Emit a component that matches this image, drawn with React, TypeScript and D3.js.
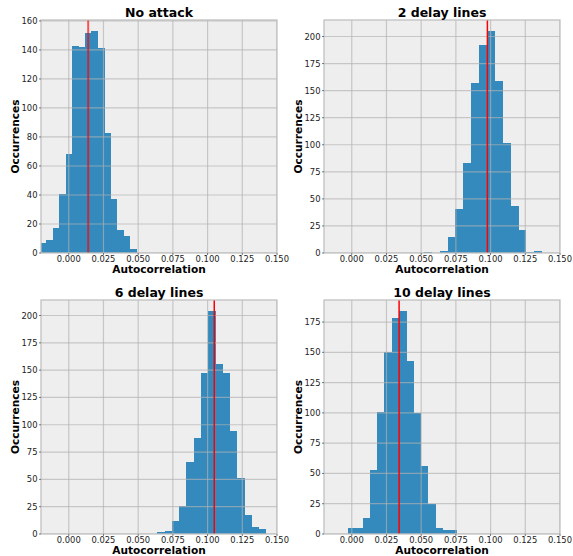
import React from 'react';
import * as d3 from 'd3';

// Histogram counts per panel (1024 samples each)
const noAttackCounts = [7, 9, 17, 41, 68, 143, 142, 152, 153, 141, 83, 37, 16, 12, 3];
const delay2Counts = [1, 0, 2, 15, 41, 83, 157, 192, 205, 159, 102, 43, 21, 1, 2];
const delay6Counts = [2, 3, 12, 26, 66, 88, 147, 204, 156, 147, 94, 51, 17, 6, 5];
const delay10Counts = [5, 5, 13, 53, 101, 150, 178, 184, 143, 100, 56, 25, 5, 3, 3];

// Range covered by the bins of each panel
const binRanges = [
  [-0.0207, 0.0486],
  [0.0521, 0.1368],
  [0.0638, 0.142],
  [-0.0026, 0.0758],
];

// Mean autocorrelation (red line)
const meanValues = [0.014, 0.0977, 0.1048, 0.0341];

const titles = ['No attack', '2 delay lines', '6 delay lines', '10 delay lines'];
const xTicks = [0, 0.025, 0.05, 0.075, 0.1, 0.125, 0.15];
const xDomain = [-0.02, 0.15];
const yTickSteps = [20, 25, 25, 25];

const allCounts = [noAttackCounts, delay2Counts, delay6Counts, delay10Counts];

const W = 573;
const H = 556;
const font = 'DejaVu Sans, sans-serif';
const barColor = '#348ABD';

// plot areas: [left, top, right, bottom]
const boxes = [
  [41, 20, 277, 253],
  [324, 20, 560, 253],
  [41, 300, 277, 534],
  [324, 300, 560, 534],
];

const Panel = ({ i }: { i: number }) => {
  const [x0, y0, x1, y1] = boxes[i];
  const counts = allCounts[i];
  const [lo, hi] = binRanges[i];
  const n = counts.length;
  const edges = d3.range(n + 1).map((k) => lo + ((hi - lo) * k) / n);
  const yMax = (d3.max(counts) as number) * 1.05;

  const x = d3.scaleLinear().domain(xDomain).range([x0, x1]);
  const y = d3.scaleLinear().domain([0, yMax]).range([y1, y0]);
  const yTicks = d3.range(0, yMax + 1e-9, yTickSteps[i]);
  const fmt = d3.format('.3f');
  const clipId = `clip${i}`;
  const cx = (x0 + x1) / 2;

  return (
    <g>
      <defs>
        <clipPath id={clipId}>
          <rect x={x0} y={y0} width={x1 - x0} height={y1 - y0} />
        </clipPath>
      </defs>
      <rect x={x0} y={y0} width={x1 - x0} height={y1 - y0} fill="#eeeeee" />
      <g clipPath={`url(#${clipId})`}>
        {counts.map((c, k) =>
          c > 0 ? (
            <rect
              key={k}
              x={x(edges[k])}
              y={y(c)}
              width={x(edges[k + 1]) - x(edges[k]) + 0.4}
              height={y(0) - y(c)}
              fill={barColor}
              shapeRendering="crispEdges"
            />
          ) : null
        )}
        {xTicks.map((t) => (
          <line key={'gx' + t} x1={x(t)} x2={x(t)} y1={y0} y2={y1} stroke="#b2b2b2" strokeWidth={1.2} opacity={0.65} />
        ))}
        {yTicks.map((t) => (
          <line key={'gy' + t} x1={x0} x2={x1} y1={y(t)} y2={y(t)} stroke="#b2b2b2" strokeWidth={1.2} opacity={0.65} />
        ))}
        <line
          x1={x(meanValues[i])}
          x2={x(meanValues[i])}
          y1={y0}
          y2={y1}
          stroke="red"
          strokeWidth={i === 0 ? 2 : 1.5}
          opacity={i === 0 ? 0.65 : 1}
        />
      </g>
      <rect x={x0} y={y0} width={x1 - x0} height={y1 - y0} fill="none" stroke="#bcbcbc" strokeWidth={1.2} />

      {xTicks.map((t) => (
        <g key={'tx' + t}>
          <line x1={x(t)} x2={x(t)} y1={y1} y2={y1 + 2} stroke="#555" strokeWidth={0.8} />
          <text x={x(t)} y={y1 + 9} fontSize={8.4} fontFamily={font} textAnchor="middle" fill="#222">
            {fmt(t)}
          </text>
        </g>
      ))}
      {yTicks.map((t) => (
        <g key={'ty' + t}>
          <line x1={x0 - 2} x2={x0} y1={y(t)} y2={y(t)} stroke="#555" strokeWidth={0.8} />
          <text x={x0 - 3.5} y={y(t) + 3} fontSize={8.4} fontFamily={font} textAnchor="end" fill="#222">
            {t}
          </text>
        </g>
      ))}

      <text x={cx} y={y0 - 3.5} fontSize={12.5} fontWeight="bold" fontFamily={font} textAnchor="middle">
        {titles[i]}
      </text>
      <text x={cx} y={y1 + 20} fontSize={10.6} fontWeight="bold" fontFamily={font} textAnchor="middle">
        Autocorrelation
      </text>
      <text
        transform={`translate(${x0 - 22.5},${(y0 + y1) / 2}) rotate(-90)`}
        fontSize={10.6}
        fontWeight="bold"
        fontFamily={font}
        textAnchor="middle"
      >
        Occurrences
      </text>
    </g>
  );
};

export default function App() {
  return (
    <svg
      width={W}
      height={H}
      style={{ position: 'absolute', left: 0, top: 0, background: '#fff' }}
    >
      {titles.map((_, i) => (
        <Panel key={i} i={i} />
      ))}
    </svg>
  );
}
